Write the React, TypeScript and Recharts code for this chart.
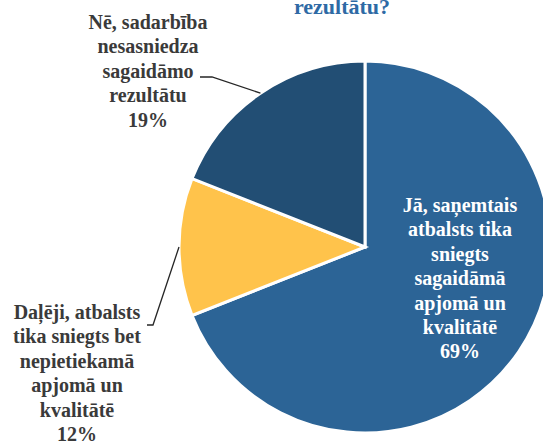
import { PieChart, Pie, Cell } from "recharts"

const categories = [
  "Jā, saņemtais atbalsts tika sniegts sagaidāmā apjomā un kvalitātē",
  "Daļēji, atbalsts tika sniegts bet nepietiekamā apjomā un kvalitātē",
  "Nē, sadarbība nesasniedza sagaidāmo rezultātu",
]
const values = [69, 12, 19]
const labelLines = [
  ["Jā, saņemtais", "atbalsts tika", "sniegts", "sagaidāmā", "apjomā un", "kvalitātē"],
  ["Daļēji, atbalsts", "tika sniegts bet", "nepietiekamā", "apjomā un", "kvalitātē"],
  ["Nē, sadarbība", "nesasniedza", "sagaidāmo", "rezultātu"],
]
const titleTail = "rezultātu?"

const colors = ["#2C6496", "#FFC34B", "#224E74"]
const textColors = ["#FFFFFF", "#3A3A3A", "#3A3A3A"]
const serif = "Liberation Serif"

// label block offsets from pie centre, plus elbow of the leader line (null = inside)
const labelPos = [
  { dx: 95, dy: -35, elbow: null as null | number[] },
  { dx: -288, dy: 72, elbow: [-212, 78, -218, 78] },
  { dx: -217, dy: -218, elbow: [-153, -170, -165, -170] },
]

const data = categories.map((name, i) => ({ name, value: values[i] }))
const total = values.reduce((a, b) => a + b, 0)
const RAD = Math.PI / 180

function renderLabel(props: any) {
  const { cx, cy, midAngle, outerRadius, index } = props
  const pos = labelPos[index]
  const lines = [...labelLines[index], `${Math.round((values[index] / total) * 100)}%`]
  const x = cx + pos.dx
  const y = cy + pos.dy
  let line = null
  if (pos.elbow) {
    const sx = cx + outerRadius * Math.cos(-midAngle * RAD)
    const sy = cy + outerRadius * Math.sin(-midAngle * RAD)
    const e = pos.elbow
    line = (
      <polyline
        points={`${sx},${sy} ${cx + e[0]},${cy + e[1]} ${cx + e[2]},${cy + e[3]}`}
        fill="none"
        stroke="#262626"
        strokeWidth={1.3}
      />
    )
  }
  return (
    <g key={`lbl-${index}`} style={{ fontFamily: serif }}>
      {line}
      <text
        x={x}
        y={y}
        textAnchor="middle"
        fill={textColors[index]}
        style={{ fontFamily: serif, fontWeight: 700, fontSize: 20 }}
      >
        {lines.map((t, i) => (
          <tspan key={i} x={x} dy={i === 0 ? 0 : 24.4} style={{ fontFamily: serif }}>
            {t}
          </tspan>
        ))}
      </text>
    </g>
  )
}

export default function App() {
  return (
    <div style={{ position: "absolute", left: 0, top: 0, width: 543, height: 441, background: "#fff", overflow: "hidden", fontFamily: serif }}>
      <PieChart width={543} height={441} margin={{ top: 0, right: 0, bottom: 0, left: 0 }} style={{ fontFamily: serif }}>
        <text
          x={342}
          y={14}
          textAnchor="middle"
          fill="#2E6AA5"
          style={{ fontFamily: serif, fontWeight: 700, fontSize: 22 }}
        >
          {titleTail}
        </text>
        <Pie
          data={data}
          dataKey="value"
          nameKey="name"
          cx={365}
          cy={247}
          outerRadius={186}
          startAngle={90}
          endAngle={-270}
          stroke="#FFFFFF"
          strokeWidth={3}
          label={renderLabel}
          labelLine={false}
          isAnimationActive={false}
        >
          {data.map((d, i) => (
            <Cell key={d.name} fill={colors[i]} />
          ))}
        </Pie>
      </PieChart>
    </div>
  )
}
